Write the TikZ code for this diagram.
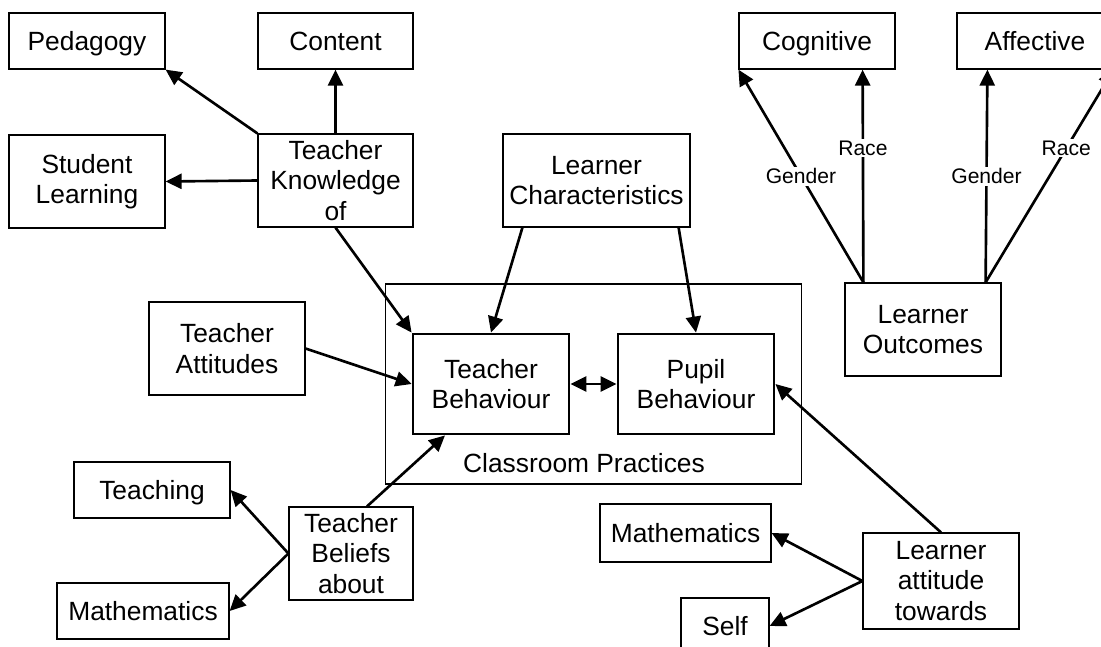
\documentclass[tikz,border=0pt]{standalone}
\usepackage{fontspec}
\setmainfont{Liberation Sans}
\usetikzlibrary{arrows.meta,calc}

\begin{document}
\begin{tikzpicture}[x=0.02cm,y=-0.02cm,
    >={Triangle[length=0.32cm,width=0.3cm]},
    font=\fontsize{15}{17.3}\selectfont]

        \useasboundingbox (0,0) rectangle (1101,646);
        \clip (0,0) rectangle (1101,646);

        \begin{scope}[every node/.style={draw,line width=0.7pt,align=center,inner sep=0pt,
            minimum width=3.12cm,minimum height=1.12cm}]
          \node (ped)   at (87,41)     [text depth=0pt] {Pedagogy};
          \node (cont)  at (335.5,41)  [minimum width=3.1cm] {Content};
          \node (stud)  at (87,181.5)  [minimum height=1.86cm] {Student\\Learning};
          \node (tk)    at (335.5,180.5) [minimum width=3.1cm,minimum height=1.86cm] {Teacher\\Knowledge\\of};
          \node (lc)    at (596.5,180.5) [minimum width=3.74cm,minimum height=1.86cm] {Learner\\Characteristics};
          \node (cog)   at (817,41)    [text depth=0pt] {Cognitive};
          \node (aff)   at (1035,41)   {Affective};
          \node (lo)    at (923,329.5) [minimum height=1.86cm] {Learner\\Outcomes};
          \node (ta)    at (227,348.5) [minimum height=1.86cm] {Teacher\\Attitudes};
          \node (cpbox) at (593.5,384) [line width=0.6pt,minimum width=8.34cm,minimum height=4cm] {};
          \node (tb)    at (491,384)   [line width=1.6pt,minimum height=2cm] {Teacher\\Behaviour};
          \node (pb)    at (696,384)   [line width=1.6pt,minimum height=2cm] {Pupil\\Behaviour};
          \node (teach) at (152,490)   [text depth=0pt] {Teaching};
          \node (mathl) at (143,611)   [minimum width=3.44cm] {Mathematics};
          \node (tbel)  at (351,553.5) [minimum width=2.48cm,minimum height=1.86cm] {Teacher\\Beliefs\\about};
          \node (mathr) at (685.5,533) [minimum width=3.42cm,minimum height=1.16cm] {Mathematics};
          \node (self)  at (725,626)   [minimum width=1.76cm] {Self};
          \node (lat)   at (941,581)   [minimum height=1.92cm] {Learner\\attitude\\towards};
        \end{scope}

        \node (cp) at (584,463) {Classroom Practices};

        \begin{scope}[line width=1.5pt]
          \draw[->] (tk.north west) -- (ped.south east);
          \draw[->] (tk.north) -- (cont.south);
          \draw[->] (tk.west) -- (stud.east);
          \draw[->] (tk.south) -- (tb.north west);
          \draw[->] (ta.east) -- (tb.west);
          \draw[->] ($(lc.south west)+(20,0)$) -- (tb.north);
          \draw[->] ($(lc.south east)+(-12,0)$) -- (pb.north);
          \draw[<->] (tb.east) -- (pb.west);
          \draw[->] ($(tbel.north)+(16,0)$) -- ($(tb.south)+(-46,0)$);
          \draw[->] (tbel.west) -- (teach.east);
          \draw[->] (tbel.west) -- (mathl.east);
          \draw[->] (lat.north) -- (pb.east);
          \draw[->] (lat.west) -- (mathr.east);
          \draw[->] (lat.west) -- (self.east);
        \end{scope}

        \begin{scope}[line width=1.5pt,every node/.style={fill=white,inner sep=1pt,font=\fontsize{12}{14}\selectfont}]
          \draw[->] ($(lo.north west)+(19,0)$) -- node[pos=0.5]  {Gender} (cog.south west);
          \draw[->] ($(lo.north west)+(19,0)$) -- node[pos=0.63] {Race} ($(cog.south east)+(-33,0)$);
          \draw[->] ($(lo.north east)+(-16,0)$) -- node[pos=0.5]  {Gender} ($(aff.south west)+(31,0)$);
          \draw[->] ($(lo.north east)+(-16,0)$) -- node[pos=0.63] {Race} (aff.south east);
        \end{scope}

      \end{tikzpicture}
\end{document}
